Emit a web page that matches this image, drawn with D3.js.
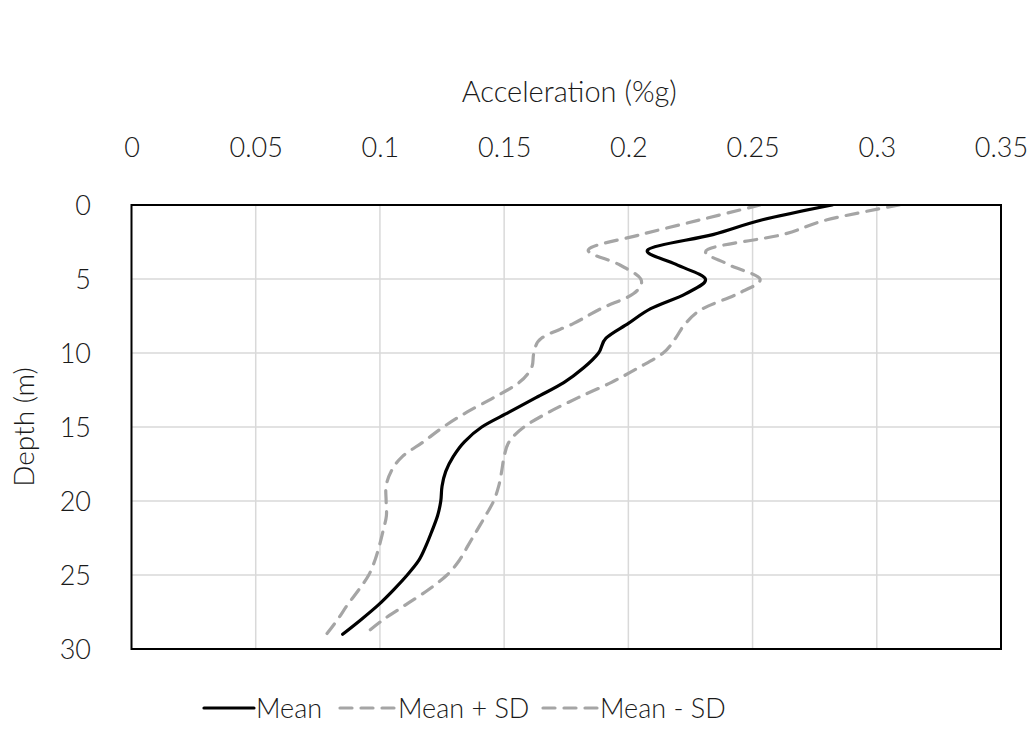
<!DOCTYPE html>
<html><head><meta charset="utf-8">
<script src="https://cdn.jsdelivr.net/npm/d3@7"></script>
<style>
html,body{margin:0;padding:0;background:#fff;}
svg text{font-family:Lato,"Open Sans",sans-serif;font-weight:300;fill:#1a1a1a;}
</style></head><body>
<svg id="c" width="1035" height="736"></svg>
<script>
const depths = [0,1,2,3,4,5,6,7,8,9,10,11,12,13,14,15,16,17,18,19,20,21,22,23,24,25,26,27,28,29];
const meanVals = [0.282,0.254,0.234,0.208,0.219,0.231,0.223,0.209,0.200,0.191,0.188,0.182,0.174,0.163,0.152,0.141,0.134,0.1295,0.1265,0.125,0.1245,0.1232,0.121,0.1186,0.1157,0.111,0.1055,0.0995,0.0925,0.085];
const plusVals = [0.309,0.280,0.262,0.232,0.240,0.253,0.244,0.230,0.223,0.219,0.214,0.204,0.193,0.180,0.168,0.158,0.152,0.150,0.149,0.1478,0.1458,0.1425,0.139,0.1355,0.132,0.127,0.1195,0.1105,0.1015,0.094];
const minusVals = [0.253,0.229,0.205,0.184,0.196,0.205,0.202,0.189,0.178,0.165,0.162,0.161,0.156,0.146,0.135,0.1255,0.1175,0.109,0.1045,0.1025,0.1025,0.1026,0.1013,0.0998,0.098,0.0955,0.0915,0.087,0.083,0.0785];
const xTicks = [0,0.05,0.1,0.15,0.2,0.25,0.3,0.35];
const xTickLabels = ["0","0.05","0.1","0.15","0.2","0.25","0.3","0.35"];
const yTicks = [0,5,10,15,20,25,30];
const seriesNames = ["Mean","Mean + SD","Mean - SD"];
const xTitle = "Acceleration (%g)";
const yTitle = "Depth (m)";

const L = 131.5, R = 1001, T = 205, B = 649;
const svg = d3.select("#c");
const x = d3.scaleLinear().domain([0,0.35]).range([L,R]);
const y = d3.scaleLinear().domain([0,30]).range([T,B]);

// gridlines
const g = svg.append("g");
g.selectAll("line.vx").data(xTicks.slice(1,-1)).join("line")
  .attr("x1",d=>x(d)).attr("x2",d=>x(d)).attr("y1",T).attr("y2",B)
  .attr("stroke","#d9d9d9").attr("stroke-width",1.5);
g.selectAll("line.hy").data(yTicks.slice(1,-1)).join("line")
  .attr("x1",L).attr("x2",R).attr("y1",d=>y(d)).attr("y2",d=>y(d))
  .attr("stroke","#d9d9d9").attr("stroke-width",1.5);

// axes via d3 (labels only)
const FS = 27;
const xAxis = d3.axisTop(x).tickValues(xTicks).tickFormat((d,i)=>xTickLabels[i]).tickSize(0).tickPadding(0);
const xa = svg.append("g").attr("transform",`translate(0,${157})`).call(xAxis);
xa.select(".domain").remove();
xa.selectAll("text").attr("font-size",FS).attr("font-family","Lato").attr("fill","#1a1a1a").attr("dy",0);

const yAxis = d3.axisLeft(y).tickValues(yTicks).tickSize(0).tickPadding(0);
const ya = svg.append("g").attr("transform",`translate(${91},0)`).call(yAxis);
ya.select(".domain").remove();
ya.selectAll("text").attr("font-size",FS).attr("font-family","Lato").attr("fill","#1a1a1a").attr("dy","0.36em");

svg.append("text").attr("x",(L+R)/2 + 3).attr("y",102).attr("text-anchor","middle")
  .attr("font-size",29).text(xTitle);
svg.append("text").attr("transform",`translate(34,${(T+B)/2}) rotate(-90)`).attr("text-anchor","middle")
  .attr("font-size",28).text(yTitle);

// lines
const line = vals => d3.line().x((d,i)=>x(vals[i])).y(d=>y(d)).curve(d3.curveCatmullRom.alpha(0))(depths);
const clipId = "pc";
svg.append("clipPath").attr("id",clipId).append("rect").attr("x",L).attr("y",T).attr("width",R-L).attr("height",B-T);
const lg = svg.append("g").attr("clip-path",`url(#${clipId})`);
const dash = "12,9";
lg.append("path").attr("d",line(minusVals)).attr("fill","none").attr("stroke","#a5a5a5").attr("stroke-width",3.2).attr("stroke-dasharray",dash).attr("stroke-linecap","round").attr("stroke-linejoin","round");
lg.append("path").attr("d",line(plusVals)).attr("fill","none").attr("stroke","#a5a5a5").attr("stroke-width",3.2).attr("stroke-dasharray",dash).attr("stroke-linecap","round").attr("stroke-linejoin","round");
lg.append("path").attr("d",line(meanVals)).attr("fill","none").attr("stroke","#000").attr("stroke-width",3.2).attr("stroke-linecap","round").attr("stroke-linejoin","round");

// frame
svg.append("rect").attr("x",L).attr("y",T).attr("width",R-L).attr("height",B-T)
  .attr("fill","none").attr("stroke","#000").attr("stroke-width",2);

// legend
const legendItems = [
  {name:seriesNames[0], x1:204, x2:254, color:"#000", dash:null},
  {name:seriesNames[1], x1:340, x2:396, color:"#a5a5a5", dash:dash},
  {name:seriesNames[2], x1:543, x2:598, color:"#a5a5a5", dash:dash}
];
const ly = 708;
const leg = svg.append("g");
legendItems.forEach(it=>{
  leg.append("line").attr("x1",it.x1).attr("x2",it.x2).attr("y1",ly).attr("y2",ly)
    .attr("stroke",it.color).attr("stroke-width",3.2).attr("stroke-linecap","round")
    .attr("stroke-dasharray",it.dash);
  leg.append("text").attr("x",it.x2+2).attr("y",ly).attr("dy","0.36em").attr("font-size",27).text(it.name);
});
</script></body></html>
